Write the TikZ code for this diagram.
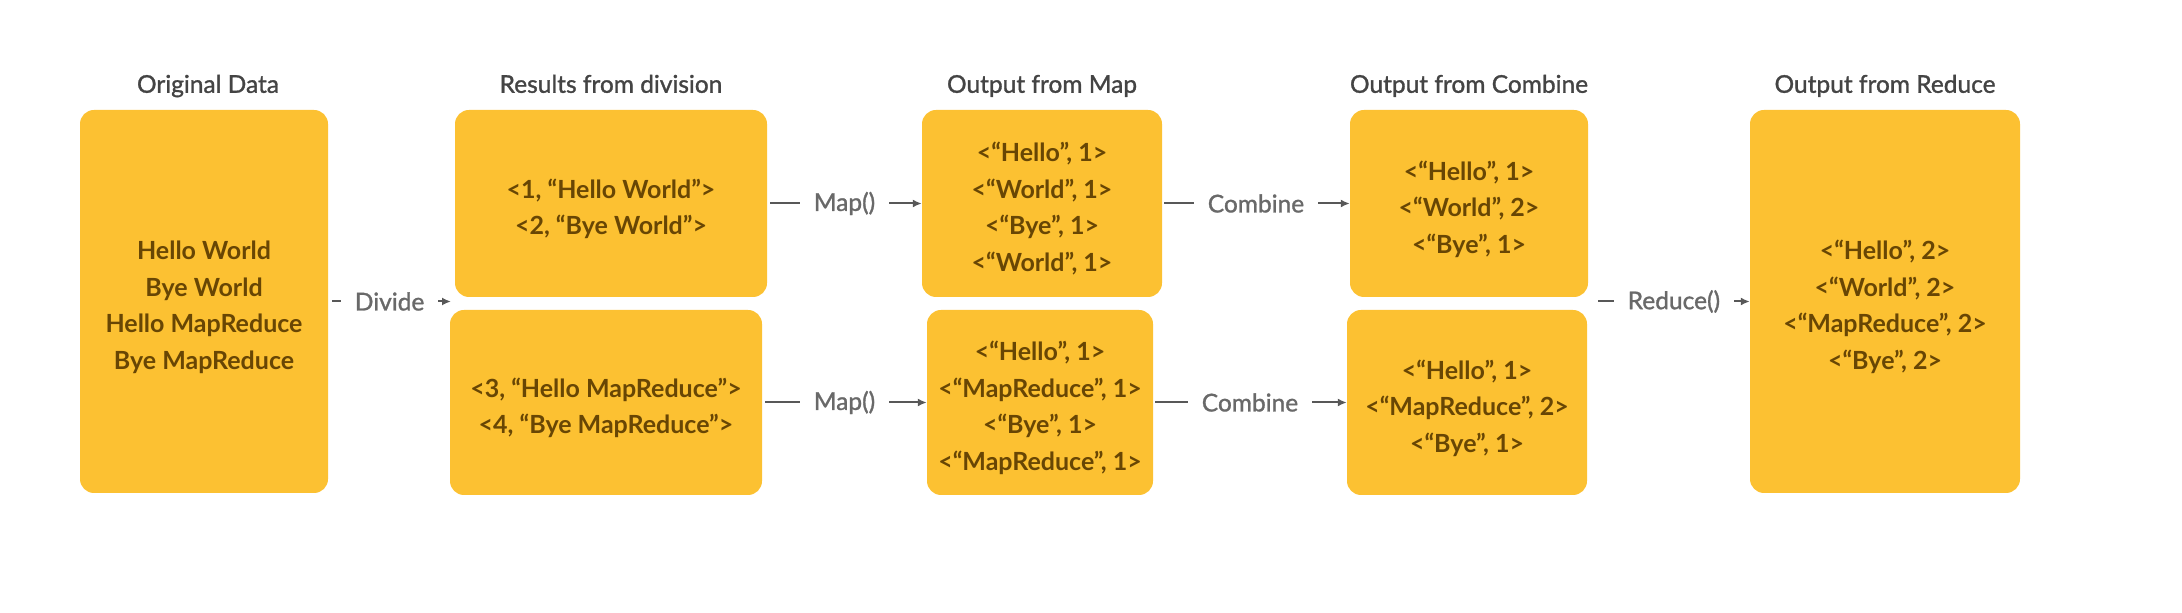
\documentclass[tikz,border=0pt]{standalone}
\usepackage{fontspec}
\setmainfont{Lato}
\newfontfamily\headfont{Lato}[FakeBold=1.2]
\usepackage{tikz}
\usetikzlibrary{arrows.meta,positioning}
\definecolor{boxfill}{RGB}{252,193,50}
\definecolor{boxtext}{RGB}{104,70,4}
\definecolor{titletext}{RGB}{68,68,68}
\definecolor{linkgray}{RGB}{88,88,88}
\definecolor{labelgray}{RGB}{105,105,105}

\begin{document}
\begin{tikzpicture}[x=1pt,y=1pt]
  \tikzstyle{data}=[rectangle,rounded corners=14pt,fill=boxfill,text=boxtext,align=center,inner sep=0pt,text depth=0pt,font=\bfseries\fontsize{25}{36.5}\selectfont]
  \tikzstyle{lines2}=[text height=63pt]
  \tikzstyle{lines3}=[text height=100pt]
  \tikzstyle{lines4}=[text height=136pt]
  \tikzstyle{title}=[text=titletext,inner sep=0pt,font=\headfont\fontsize{24.5}{28}\selectfont,anchor=base]
  \tikzstyle{link}=[draw=linkgray,line width=2pt,-{Latex[length=9pt,width=8pt]}]
  \tikzstyle{lbl}=[fill=white,text=labelgray,inner xsep=14pt,font=\headfont\fontsize{24.5}{28}\selectfont]

  \useasboundingbox (0,0) rectangle (2182,613);

  % stages
  \node[data,lines4,minimum width=248,minimum height=383] (orig) at (204,311.5)
    {Hello World\\Bye World\\Hello MapReduce\\Bye MapReduce};
  \node[data,lines2,minimum width=312,minimum height=187] (div1) at (611,409.5)
    {<1, “Hello World”>\\<2, “Bye World”>};
  \node[data,lines2,minimum width=312,minimum height=185] (div2) at (606,210.5)
    {<3, “Hello MapReduce”>\\<4, “Bye MapReduce”>};
  \node[data,lines4,minimum width=240,minimum height=187] (map1) at (1042,409.5)
    {<“Hello”, 1>\\<“World”, 1>\\<“Bye”, 1>\\<“World”, 1>};
  \node[data,lines4,minimum width=226,minimum height=185] (map2) at (1040,210.5)
    {<“Hello”, 1>\\<“MapReduce”, 1>\\<“Bye”, 1>\\<“MapReduce”, 1>};
  \node[data,lines3,minimum width=238,minimum height=187] (comb1) at (1469,409.5)
    {<“Hello”, 1>\\<“World”, 2>\\<“Bye”, 1>};
  \node[data,lines3,minimum width=240,minimum height=185] (comb2) at (1467,210.5)
    {<“Hello”, 1>\\<“MapReduce”, 2>\\<“Bye”, 1>};
  \node[data,lines4,minimum width=270,minimum height=383] (red) at (1885,311.5)
    {<“Hello”, 2>\\<“World”, 2>\\<“MapReduce”, 2>\\<“Bye”, 2>};

  % headings
  \node[above=17pt of orig,title,xshift=4pt] (t1) {Original Data};
  \node[above=17pt of div1,title] (t2) {Results from division};
  \node[above=17pt of map1,title] (t3) {Output from Map};
  \node[above=17pt of comb1,title] (t4) {Output from Combine};
  \node[above=17pt of red,title] (t5) {Output from Reduce};

  \coordinate (split) at (451,311.5);
  \coordinate (gather) at (1598,311.5);

  \draw[link,shorten <=4pt] (orig) -- node[lbl]{Divide} (split);
  \draw[link,shorten <=3pt] (div1) -- node[lbl]{Map()} (map1);
  \draw[link,shorten <=3pt] (div2) -- node[lbl]{Map()} (map2);
  \draw[link,shorten <=2pt] (map1) -- node[lbl]{Combine} (comb1);
  \draw[link,shorten <=2pt] (map2) -- node[lbl]{Combine} (comb2);
  \draw[link] (gather) -- node[lbl]{Reduce()} (red);
\end{tikzpicture}
\end{document}
